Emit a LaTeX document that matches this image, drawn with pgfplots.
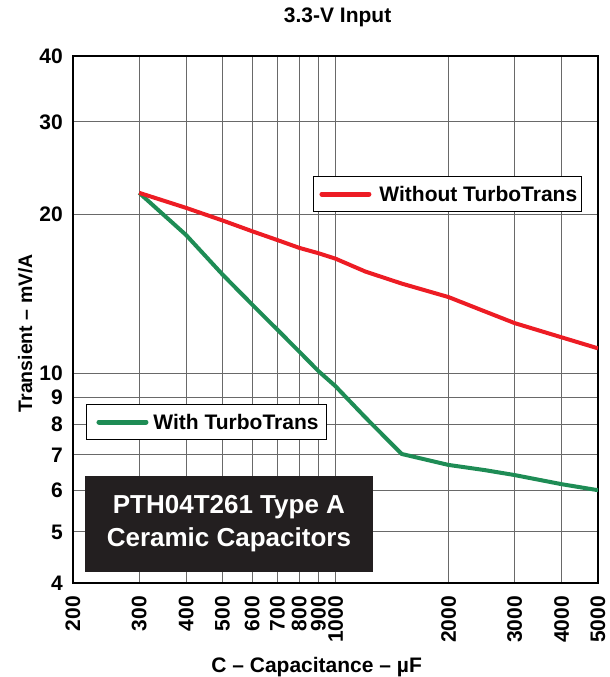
\documentclass[border=0pt]{standalone}
\usepackage{pgfplots}
\pgfplotsset{compat=1.18}
\usepackage{fontspec}
\setmainfont{Liberation Sans}
\definecolor{redline}{RGB}{237,28,36}
\definecolor{greenline}{RGB}{30,140,85}
\definecolor{boxblack}{RGB}{35,31,32}
\definecolor{gridgray}{RGB}{105,105,105}
\newcommand{\fsize}[1]{\fontsize{#1bp}{#1bp}\selectfont\bfseries}
\begin{document}
\begin{tikzpicture}
\useasboundingbox (-73bp,-94bp) rectangle (537bp,583bp);
\begin{axis}[
    scale only axis, width=525bp, height=527bp,
    at={(0,0)}, anchor=south west,
    xmode=log, ymode=log,
    xmin=200, xmax=5000, ymin=4, ymax=40,
    xtick={200,300,400,500,600,700,800,900,1000,2000,3000,4000,5000},
    xticklabels={200,300,400,500,600,700,800,900,1000,2000,3000,4000,5000},
    ytick={4,5,6,7,8,9,10,20,30,40},
    yticklabels={4,5,6,7,8,9,10,20,30,40},
    major tick length=0pt,
    axis line style={line width=1.2bp},
    grid=major, grid style={draw=gridgray, line width=1bp},
    xticklabel style={font=\fsize{21}, rotate=90, anchor=east, inner sep=0pt},
    xticklabel shift=13bp,
    yticklabel style={font=\fsize{21}, anchor=east, inner sep=0pt},
    yticklabel shift=10bp,
    title={3.3-V Input},
    title style={font=\fsize{21}, at={(axis description cs:0.504,1)}, anchor=base, yshift=28bp},
    xlabel={C – Capacitance – µF},
    xlabel style={font=\fsize{21}, at={(axis description cs:0.464,0)}, anchor=base, yshift=-90bp},
    ylabel={Transient – mV/A},
    ylabel style={font=\fsize{19.5}, at={(axis description cs:-0.0781,0.474)}, anchor=base},
    legend image code/.code={\path (0bp,0bp) (52bp,0bp); \draw[#1, line width=5bp, line cap=round] (2.5bp,0bp) -- (49.5bp,0bp);},
    legend style={draw=black, line width=0.9bp, fill=white,
      font=\fsize{21}, inner xsep=8bp, inner ysep=10bp,
      nodes={inner sep=0pt, text depth=0pt},
      cells={anchor=west}, at={(0.0248,0.3397)}, anchor=north west},
  ]
\addplot[greenline, line width=4bp, line join=round] coordinates {
 (300,22.0) (400,18.3) (500,15.4) (600,13.5) (700,12.1) (800,11.0) (900,10.1)
 (1000,9.45) (1200,8.25) (1500,7.03) (2000,6.70) (2500,6.55) (3000,6.41)
 (4000,6.16) (5000,6.0)};
\addlegendentry{\hspace{3bp}With TurboTrans\hspace{17bp}}
\node[fill=boxblack, text=white, minimum width=288bp, minimum height=96bp,
  align=center, font=\fontsize{26bp}{33bp}\selectfont\bfseries, inner sep=0pt]
  at (rel axis cs:0.297,0.112) {PTH04T261 Type A\\Ceramic Capacitors};
\end{axis}
\begin{axis}[
    scale only axis, width=525bp, height=527bp,
    at={(0,0)}, anchor=south west,
    xmode=log, ymode=log,
    xmin=200, xmax=5000, ymin=4, ymax=40,
    hide axis,
    legend image code/.code={\path (0bp,0bp) (52bp,0bp); \draw[#1, line width=5bp, line cap=round] (2.5bp,0bp) -- (49.5bp,0bp);},
    legend style={draw=black, line width=0.9bp, fill=white,
      font=\fsize{21}, inner xsep=4bp, inner ysep=10bp,
      nodes={inner sep=0pt, text depth=0pt},
      cells={anchor=west}, at={(0.4571,0.7723)}, anchor=north west},
  ]
\addplot[redline, line width=4bp, line join=round] coordinates {
 (300,22.0) (400,20.6) (500,19.5) (600,18.6) (700,17.9) (800,17.3) (900,16.9)
 (1000,16.5) (1200,15.6) (1500,14.8) (2000,13.95) (2500,13.1) (3000,12.45)
 (4000,11.7) (5000,11.15)};
\addlegendentry{\hspace{6bp}Without TurboTrans\hspace{3bp}}
\end{axis}
\end{tikzpicture}
\end{document}
